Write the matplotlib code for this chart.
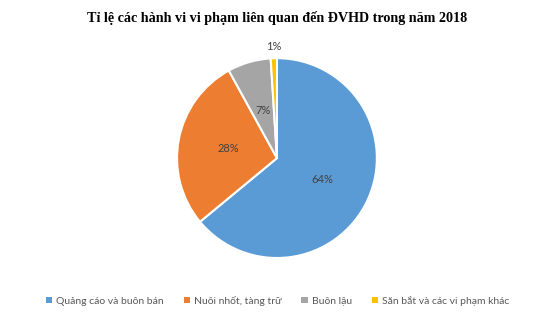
import numpy as np
import matplotlib
matplotlib.use('Agg')
import matplotlib.pyplot as plt
from matplotlib.patches import Patch

labels = [u"Quảng cáo và buôn bán", u"Nuôi nhốt, tàng trữ", u"Buôn lậu",
          u"Săn bắt và các vi phạm khác"]
values = [64, 28, 7, 1]
colors = ["#5B9BD5", "#ED7D31", "#A5A5A5", "#FFC000"]
title = u"Tỉ lệ các hành vi vi phạm liên quan đến ĐVHD trong năm 2018"

plt.rcParams['font.family'] = ['Lato', 'DejaVu Sans']

fig = plt.figure(figsize=(5.55, 3.21), dpi=100)
ax = fig.add_axes([0.319, 0.196, 0.360, 0.623])
wedges, texts, autotexts = ax.pie(values, colors=colors, startangle=90, counterclock=False,
                                  autopct="%d%%", pctdistance=0.5,
                                  wedgeprops=dict(edgecolor="white", linewidth=1.5),
                                  textprops=dict(color="#404040", fontsize=8))
# small slice label goes outside
w = wedges[-1]
ang = np.deg2rad((w.theta1 + w.theta2) / 2.)
autotexts[-1].set_position((1.12*np.cos(ang), 1.12*np.sin(ang)))
ax.set_xlim(-1, 1)
ax.set_ylim(-1, 1)
ax.set_aspect('equal')

fig.text(0.5, 0.945, title, ha="center", va="center", fontsize=10.2, fontweight="bold",
         family=["Liberation Serif", "DejaVu Serif"])

handles = [Patch(facecolor=c, label=l) for c, l in zip(colors, labels)]
fig.legend(handles=handles, loc="center", bbox_to_anchor=(0.5, 0.063), ncol=4,
           frameon=False, fontsize=7.5, handlelength=0.6, handleheight=0.6,
           handletextpad=0.4, columnspacing=1.9, labelcolor="#595959")

fig.savefig("out.png", dpi=100)
